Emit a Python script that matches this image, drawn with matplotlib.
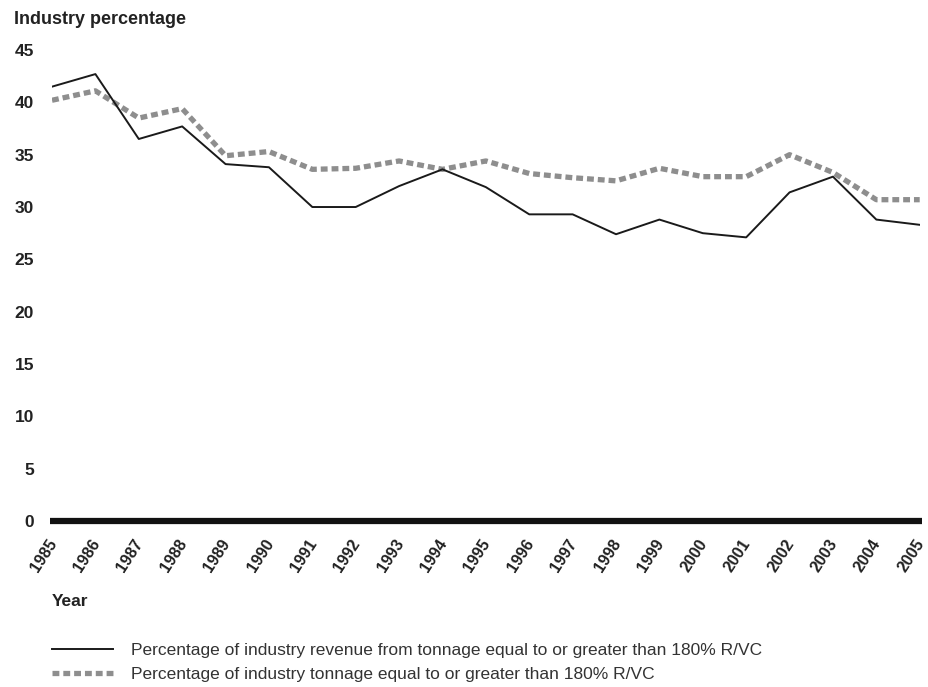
import numpy as np
import matplotlib
matplotlib.use("Agg")
import matplotlib.pyplot as plt
import matplotlib.transforms as mtransforms
from matplotlib.lines import Line2D

years = list(range(1985, 2006))
revenue_pct = [41.5, 42.7, 36.5, 37.7, 34.1, 33.8, 30.0, 30.0, 32.0, 33.6, 31.9,
               29.3, 29.3, 27.4, 28.8, 27.5, 27.1, 31.4, 32.9, 28.8, 28.3]
tonnage_pct = [40.2, 41.1, 38.5, 39.4, 34.9, 35.3, 33.6, 33.7, 34.4, 33.6, 34.4,
               33.2, 32.8, 32.5, 33.7, 32.9, 32.9, 35.0, 33.3, 30.7, 30.7]
y_ticks = [0, 5, 10, 15, 20, 25, 30, 35, 40, 45]

revenue_label = "Percentage of industry revenue from tonnage equal to or greater than 180% R/VC"
tonnage_label = "Percentage of industry tonnage equal to or greater than 180% R/VC"

plt.rcParams['font.family'] = ['Liberation Sans', 'DejaVu Sans']

fig = plt.figure(figsize=(9.29, 6.87), dpi=100)
ax = fig.add_axes([0.056, 0.2416, 0.934, 0.6856])

dot_style = dict(color="#8e8e8e", lw=3.8, dashes=(1.3, 0.75), dash_capstyle="butt")
ax.plot(years, tonnage_pct, zorder=2, **dot_style)
ax.plot(years, revenue_pct, color="#1a1a1a", lw=1.4, zorder=3)
ax.axhline(0, xmin=-0.002, xmax=1.003, color="#111111", lw=4.5,
           solid_capstyle="butt", zorder=4, clip_on=False)

ax.set_xlim(1985, 2005)
ax.set_ylim(0, 45)
ax.set_yticks(y_ticks)
ax.set_xticks(years)
ax.set_yticklabels([str(v) for v in y_ticks], fontsize=12.5, fontweight="bold", color="#222222")
ax.set_xticklabels([str(y) for y in years], rotation=57, fontsize=11.5, fontweight="bold",
                   color="#222222", ha="right", rotation_mode="anchor")
ax.tick_params(axis="both", length=0)
ax.tick_params(axis="y", pad=13)
ax.tick_params(axis="x", pad=11)
for s in ax.spines.values():
    s.set_visible(False)

# nudge year labels a little left so the last one stays inside the figure
shift = mtransforms.ScaledTranslation(-5 / 100, 0, fig.dpi_scale_trans)
for lbl in ax.get_xticklabels():
    lbl.set_transform(lbl.get_transform() + shift)

fig.text(0.015, 0.971, "Industry percentage", fontsize=13, fontweight="bold",
         color="#222222", va="center", ha="left")
fig.text(0.056, 0.125, "Year", fontsize=12.5, fontweight="bold", color="#222222",
         va="center", ha="left")

handles = [Line2D([], [], color="#1a1a1a", lw=1.4),
           Line2D([], [], **dot_style)]
fig.legend(handles, [revenue_label, tonnage_label], loc="upper left",
           bbox_to_anchor=(0.056, 0.064), frameon=False, fontsize=12.5,
           handlelength=3.5, handletextpad=1.05, labelspacing=0.5, borderaxespad=0,
           borderpad=0, labelcolor="#333333")

fig.savefig("out.png", dpi=100)
